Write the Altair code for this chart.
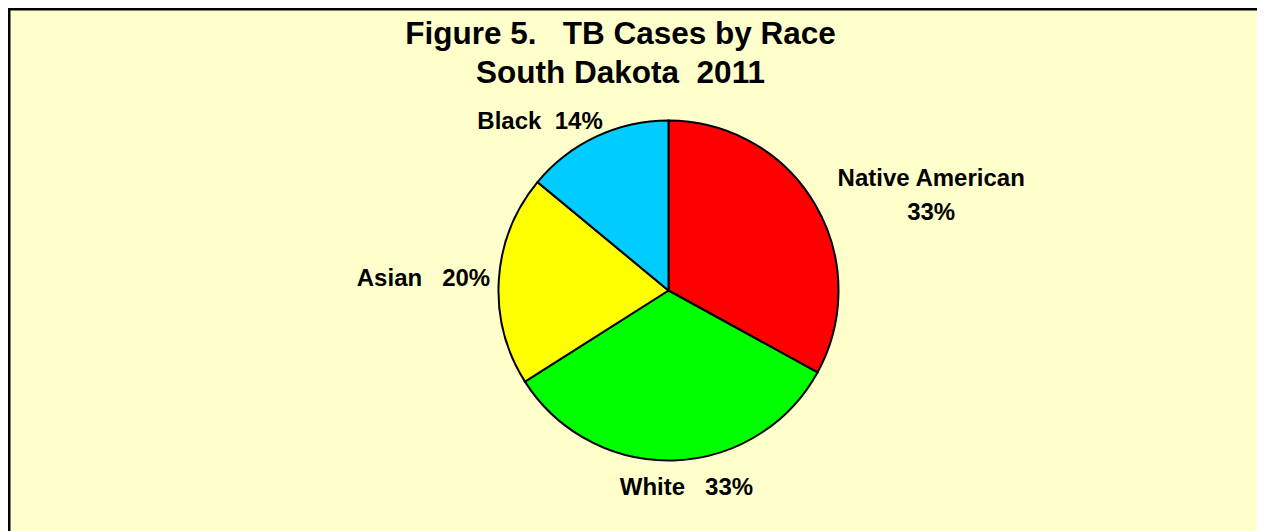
import altair as alt
import pandas as pd

# Data
categories = ["Native American", "White", "Asian", "Black"]
percents = [33, 33, 20, 14]
labels = ["Native American\n33%", "White\u00a0\u00a0\u00a033%", "Asian\u00a0\u00a0\u00a020%", "Black\u00a0\u00a014%"]
colors = ["#FF0000", "#00FF00", "#FFFF00", "#00CCFF"]

df = pd.DataFrame({
    "race": categories,
    "pct": percents,
    "label": labels,
    "idx": list(range(len(categories))),
})

CX, CY = 660.5, 282.5
FONT = "Liberation Sans"

base = alt.Chart(df)

theta = alt.Theta("pct:Q", stack=True)
order = alt.Order("idx:Q")

pie = base.mark_arc(radius=170, stroke="black", strokeWidth=2).encode(
    theta=theta,
    order=order,
    color=alt.Color("race:N", scale=alt.Scale(domain=categories, range=colors), legend=None),
    x=alt.value(CX),
    y=alt.value(CY),
)

# label placement (radius, dx, dy) per category
placement = {
    "Native American": (250, 47.5, 15.5),
    "White": (196, 11.8, 1.6),
    "Asian": (245, -0.5, 3.9),
    "Black": (200, -43.3, 12.5),
}

text_layers = []
for cat in categories:
    r, dx, dy = placement[cat]
    t = base.mark_text(
        radius=r, dx=dx, dy=dy, font=FONT, fontSize=24, fontWeight="bold",
        color="black", align="center", baseline="middle", lineBreak="\n", lineHeight=34,
    ).encode(
        theta=theta,
        order=order,
        text=alt.condition(f"datum.race == '{cat}'", alt.Text("label:N"), alt.value("")),
        x=alt.value(CX),
        y=alt.value(CY),
    )
    text_layers.append(t)

border = alt.Chart(alt.Data(values=[{"b": 1}])).mark_rect(
    fill="transparent", stroke="black", strokeWidth=2.5
).encode(
    x=alt.value(1.25), y=alt.value(1.25), x2=alt.value(1400), y2=alt.value(700)
)

chart = alt.layer(border, pie, *text_layers).properties(
    width=1249,
    height=523,
    autosize=alt.AutoSizeParams(type="none"),
    padding=0,
    background="#FFFFCC",
    title=alt.Title(
        text=["Figure 5.\u00a0\u00a0\u00a0TB Cases by Race", "South Dakota\u00a0\u00a02011"],
        anchor="middle", frame="group", orient="top", baseline="top",
        font=FONT, fontSize=31.5, fontWeight="bold", color="black",
        lineHeight=39, offset=-81, dx=-12,
    ),
).configure_view(strokeWidth=0)

chart.save("out.html", embed_options={"renderer": "svg", "actions": False})
